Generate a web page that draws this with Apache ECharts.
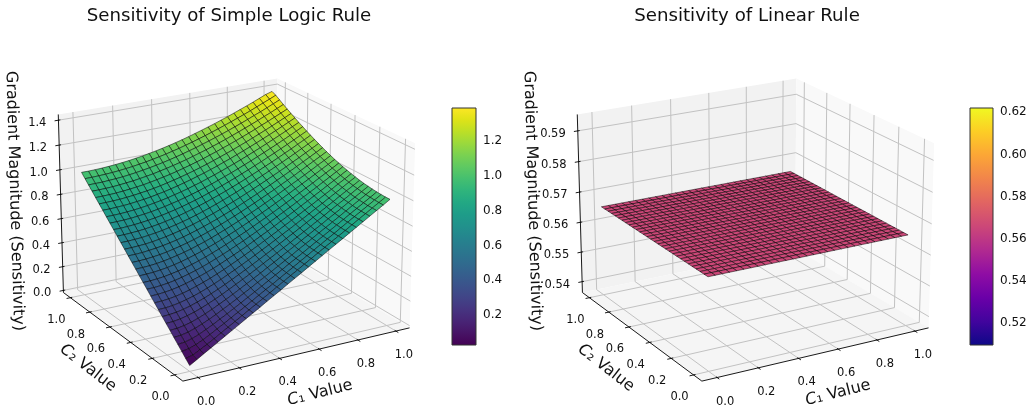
<!DOCTYPE html>
<html><head><meta charset="utf-8">
<style>html,body{margin:0;padding:0;background:#fff}#c{width:1032px;height:411px}</style>
<script src="https://cdn.jsdelivr.net/npm/echarts@6/dist/echarts.min.js"></script>
</head><body><div id="c"></div>
<script>
const FONT = '"DejaVu Sans"';
const c1Ticks = [0, 0.2, 0.4, 0.6, 0.8, 1.0];
const c2Ticks = [0, 0.2, 0.4, 0.6, 0.8, 1.0];
const simpleZTicks = [0, 0.2, 0.4, 0.6, 0.8, 1.0, 1.2, 1.4];
const linearZTicks = [0.54, 0.55, 0.56, 0.57, 0.58, 0.59];
const simpleBarTicks = [0.2, 0.4, 0.6, 0.8, 1.0, 1.2];
const linearBarTicks = [0.52, 0.54, 0.56, 0.58, 0.60, 0.62];
const viridis = ['#440154','#471365','#482475','#463480','#414487','#3b528b','#355f8d','#2f6c8e','#2a788e','#25848e','#21918c','#1e9c89','#22a884','#2fb47c','#44bf70','#5ec962','#7ad151','#9bd93c','#bddf26','#dfe318','#fde725'];
const plasma = ['#0d0887','#41049d','#6a00a8','#8f0da4','#b12a90','#cc4778','#e16462','#f1844b','#fca636','#fcce25','#f0f921'];
// Surface heights: rows are C2 = 0..1, columns are C1 = 0..1 (30 samples each)
const simpleRuleZ = [
[.028,.061,.095,.128,.161,.195,.228,.261,.295,.328,.361,.395,.428,.461,.495,.528,.561,.595,.628,.661,.695,.728,.761,.795,.828,.861,.895,.928,.961,.995],
[.061,.075,.103,.133,.165,.198,.231,.264,.297,.330,.363,.396,.429,.463,.496,.529,.562,.596,.629,.662,.695,.729,.762,.795,.829,.862,.895,.929,.962,.995],
[.095,.103,.122,.148,.177,.208,.239,.271,.303,.335,.368,.401,.434,.466,.499,.532,.565,.599,.632,.665,.698,.731,.764,.798,.831,.864,.897,.930,.964,.997],
[.128,.133,.148,.169,.195,.222,.252,.282,.313,.344,.376,.408,.440,.473,.505,.538,.571,.603,.636,.669,.702,.735,.768,.801,.834,.867,.900,.934,.967,1.000],
[.161,.165,.177,.195,.217,.241,.268,.297,.326,.356,.387,.418,.450,.481,.513,.545,.578,.610,.643,.675,.708,.741,.773,.806,.839,.872,.905,.938,.971,1.004],
[.195,.198,.208,.222,.241,.264,.288,.315,.342,.371,.401,.431,.461,.492,.524,.555,.587,.619,.651,.683,.715,.748,.780,.813,.845,.878,.911,.943,.976,1.009],
[.228,.231,.239,.252,.268,.288,.311,.335,.361,.389,.417,.446,.475,.505,.536,.567,.598,.629,.660,.692,.724,.756,.788,.820,.853,.885,.917,.950,.983,1.015],
[.261,.264,.271,.282,.297,.315,.335,.358,.382,.408,.435,.463,.491,.520,.550,.580,.610,.641,.672,.703,.734,.766,.798,.829,.861,.893,.926,.958,.990,1.022],
[.295,.297,.303,.313,.326,.342,.361,.382,.405,.429,.455,.481,.509,.537,.565,.595,.624,.654,.685,.715,.746,.777,.808,.840,.871,.903,.935,.967,.999,1.031],
[.328,.330,.335,.344,.356,.371,.389,.408,.429,.452,.476,.502,.528,.555,.583,.611,.640,.669,.699,.729,.759,.790,.820,.851,.882,.914,.945,.977,1.008,1.040],
[.361,.363,.368,.376,.387,.401,.417,.435,.455,.476,.499,.524,.549,.575,.601,.629,.657,.685,.714,.744,.773,.803,.834,.864,.895,.926,.957,.988,1.019,1.051],
[.395,.396,.401,.408,.418,.431,.446,.463,.481,.502,.524,.547,.571,.596,.621,.648,.675,.703,.731,.760,.789,.818,.848,.878,.908,.938,.969,1.000,1.031,1.062],
[.428,.429,.434,.440,.450,.461,.475,.491,.509,.528,.549,.571,.594,.618,.643,.668,.695,.722,.749,.777,.805,.834,.863,.893,.922,.952,.983,1.013,1.043,1.074],
[.461,.463,.466,.473,.481,.492,.505,.520,.537,.555,.575,.596,.618,.641,.665,.690,.715,.741,.768,.795,.823,.851,.880,.909,.938,.967,.997,1.027,1.057,1.087],
[.495,.496,.499,.505,.513,.524,.536,.550,.565,.583,.601,.621,.643,.665,.688,.712,.737,.762,.788,.815,.842,.869,.897,.926,.954,.983,1.012,1.042,1.071,1.101],
[.528,.529,.532,.538,.545,.555,.567,.580,.595,.611,.629,.648,.668,.690,.712,.735,.759,.784,.809,.835,.861,.888,.916,.943,.971,1.000,1.029,1.058,1.087,1.116],
[.561,.562,.565,.571,.578,.587,.598,.610,.624,.640,.657,.675,.695,.715,.737,.759,.782,.806,.831,.856,.882,.908,.935,.962,.989,1.017,1.046,1.074,1.103,1.132],
[.595,.596,.599,.603,.610,.619,.629,.641,.654,.669,.685,.703,.722,.741,.762,.784,.806,.829,.853,.878,.903,.929,.955,.981,1.008,1.036,1.063,1.092,1.120,1.149],
[.628,.629,.632,.636,.643,.651,.660,.672,.685,.699,.714,.731,.749,.768,.788,.809,.831,.853,.877,.900,.925,.950,.976,1.002,1.028,1.055,1.082,1.110,1.138,1.166],
[.661,.662,.665,.669,.675,.683,.692,.703,.715,.729,.744,.760,.777,.795,.815,.835,.856,.878,.900,.924,.948,.972,.997,1.022,1.048,1.075,1.101,1.129,1.156,1.184],
[.695,.695,.698,.702,.708,.715,.724,.734,.746,.759,.773,.789,.805,.823,.842,.861,.882,.903,.925,.948,.971,.995,1.019,1.044,1.069,1.095,1.121,1.148,1.175,1.202],
[.728,.729,.731,.735,.741,.748,.756,.766,.777,.790,.803,.818,.834,.851,.869,.888,.908,.929,.950,.972,.995,1.018,1.042,1.066,1.091,1.116,1.142,1.168,1.195,1.222],
[.761,.762,.764,.768,.773,.780,.788,.798,.808,.820,.834,.848,.863,.880,.897,.916,.935,.955,.976,.997,1.019,1.042,1.065,1.089,1.113,1.138,1.163,1.189,1.215,1.241],
[.795,.795,.798,.801,.806,.813,.820,.829,.840,.851,.864,.878,.893,.909,.926,.943,.962,.981,1.002,1.022,1.044,1.066,1.089,1.112,1.136,1.160,1.185,1.210,1.236,1.262],
[.828,.829,.831,.834,.839,.845,.853,.861,.871,.882,.895,.908,.922,.938,.954,.971,.989,1.008,1.028,1.048,1.069,1.091,1.113,1.136,1.159,1.183,1.207,1.232,1.257,1.283],
[.861,.862,.864,.867,.872,.878,.885,.893,.903,.914,.926,.938,.952,.967,.983,1.000,1.017,1.036,1.055,1.075,1.095,1.116,1.138,1.160,1.183,1.207,1.230,1.255,1.279,1.304],
[.895,.895,.897,.900,.905,.911,.917,.926,.935,.945,.957,.969,.983,.997,1.012,1.029,1.046,1.063,1.082,1.101,1.121,1.142,1.163,1.185,1.207,1.230,1.254,1.277,1.302,1.326],
[.928,.929,.930,.934,.938,.943,.950,.958,.967,.977,.988,1.000,1.013,1.027,1.042,1.058,1.074,1.092,1.110,1.129,1.148,1.168,1.189,1.210,1.232,1.255,1.277,1.301,1.325,1.349],
[.961,.962,.964,.967,.971,.976,.983,.990,.999,1.008,1.019,1.031,1.043,1.057,1.071,1.087,1.103,1.120,1.138,1.156,1.175,1.195,1.215,1.236,1.257,1.279,1.302,1.325,1.348,1.372],
[.995,.995,.997,1.000,1.004,1.009,1.015,1.022,1.031,1.040,1.051,1.062,1.074,1.087,1.101,1.116,1.132,1.149,1.166,1.184,1.202,1.222,1.241,1.262,1.283,1.304,1.326,1.349,1.372,1.389]
];
// The linear rule's surface reads as one flat height everywhere
const linearRuleRow = [.5658,.5658,.5658,.5658,.5658,.5658,.5658,.5658,.5658,.5658,.5658,.5658,.5658,.5658,.5658,.5658,.5658,.5658,.5658,.5658,.5658,.5658,.5658,.5658,.5658,.5658,.5658,.5658,.5658,.5658];
const linearRuleZ = simpleRuleZ.map(() => linearRuleRow);

const ELEV = 20 * Math.PI / 180, AZIM = -120 * Math.PI / 180, DIST = 10, SCALE = 2160, CY = 220.6;
const BOX = [1.1905, 1.1905, 0.8929];
const W = [Math.cos(ELEV)*Math.cos(AZIM), Math.cos(ELEV)*Math.sin(AZIM), Math.sin(ELEV)];
const U = [-Math.sin(AZIM), Math.cos(AZIM), 0];
const V = [W[1]*U[2]-W[2]*U[1], W[2]*U[0]-W[0]*U[2], W[0]*U[1]-W[1]*U[0]];
const dot = (a,b)=>a[0]*b[0]+a[1]*b[1]+a[2]*b[2];
function hexRgb(h){return [1,3,5].map(k=>parseInt(h.substr(k,2),16));}
function cmap(stops,t){
  t=Math.max(0,Math.min(1,t));const f=t*(stops.length-1),i=Math.min(stops.length-2,Math.floor(f)),a=hexRgb(stops[i]),b=hexRgb(stops[i+1]),k=f-i;
  return 'rgb('+[0,1,2].map(n=>Math.round(a[n]+(b[n]-a[n])*k)).join(',')+')';
}

function buildPanel(idx, cfg){
  const XL=[-0.0729,1.0729], YL=[-0.0729,1.0729], ZL=cfg.zlim;
  const proj=(x,y,z)=>{
    const P=[((x-XL[0])/(XL[1]-XL[0])-.5)*BOX[0],((y-YL[0])/(YL[1]-YL[0])-.5)*BOX[1],((z-ZL[0])/(ZL[1]-ZL[0])-.5)*BOX[2]];
    const d=DIST-dot(P,W);
    return [dot(P,U)/d,dot(P,V)/d];
  };
  const x0=XL[0],x1=XL[1],y0=YL[0],y1=YL[1],z0=ZL[0],z1=ZL[1];
  const back=[];
  back.push({k:'poly',pts:[[x0,y1,z0],[x1,y1,z0],[x1,y1,z1],[x0,y1,z1]],fill:'#f2f2f2'});
  back.push({k:'poly',pts:[[x1,y0,z0],[x1,y1,z0],[x1,y1,z1],[x1,y0,z1]],fill:'#f9f9f9'});
  back.push({k:'poly',pts:[[x0,y0,z0],[x1,y0,z0],[x1,y1,z0],[x0,y1,z0]],fill:'#f5f5f5'});
  const gridCol='#c2c2c2';
  c1Ticks.forEach(t=>back.push({k:'line',pts:[[t,y0,z0],[t,y1,z0],[t,y1,z1]],col:gridCol,w:1}));
  c2Ticks.forEach(t=>back.push({k:'line',pts:[[x0,t,z0],[x1,t,z0],[x1,t,z1]],col:gridCol,w:1}));
  cfg.zTicks.forEach(t=>back.push({k:'line',pts:[[x0,y1,t],[x1,y1,t],[x1,y0,t]],col:gridCol,w:1}));
  const ax='#000';
  back.push({k:'line',pts:[[x0,y0,z0],[x1,y0,z0]],col:ax,w:.9});
  back.push({k:'line',pts:[[x0,y0,z0],[x0,y1,z0]],col:ax,w:.9});
  back.push({k:'line',pts:[[x0,y1,z0],[x0,y1,z1]],col:ax,w:.9});
  const rx=x1-x0, out=.0167*rx, inn=.0083*rx;
  const font='11.5px '+FONT, tc='#111';
  const lab=(t,d)=>t.toFixed(d);
  c1Ticks.forEach(t=>{back.push({k:'line',pts:[[t,y0-out,z0],[t,y0+inn,z0]],col:ax,w:.9});
    back.push({k:'text',at:[t,y0,z0],dx:8,dy:24,text:lab(t,1),font,fill:tc,align:'center'});});
  c2Ticks.forEach(t=>{back.push({k:'line',pts:[[x0-out,t,z0],[x0+inn,t,z0]],col:ax,w:.9});
    back.push({k:'text',at:[x0,t,z0],dx:-14,dy:22.5,text:lab(t,1),font,fill:tc,align:'center'});});
  cfg.zTicks.forEach(t=>{back.push({k:'line',pts:[[x0-out,y1,t],[x0+inn,y1,t]],col:ax,w:.9});
    back.push({k:'text',at:[x0,y1,t],dx:-12,dy:3,text:lab(t,cfg.zDec),font,fill:tc,align:'right'});});
  const off=cfg.offset;
  const rich={i:{fontStyle:'italic',fontFamily:FONT,fontSize:16,fill:tc},n:{fontFamily:FONT,fontSize:16,fill:tc}};
  back.push({k:'label',x:320+off,y:393,rot:14,text:'{i|C}{n|\u2081 Value}',rich});
  back.push({k:'label',x:88+off,y:368,rot:-38,text:'{i|C}{n|\u2082 Value}',rich});
  back.push({k:'label',x:14.5+off,y:201,rot:-88.3,text:'Gradient Magnitude (Sensitivity)',font:'16px '+FONT});

  const renderBack=(params,api)=>{
    const s=back[params.dataIndex];
    const pt=p=>api.coord(proj(p[0],p[1],p[2]));
    if(s.k==='poly') return {type:'polygon',shape:{points:s.pts.map(pt)},style:{fill:s.fill}};
    if(s.k==='line') return {type:'polyline',shape:{points:s.pts.map(pt)},style:{stroke:s.col,lineWidth:s.w,fill:null}};
    if(s.k==='text'){const c=pt(s.at);return {type:'text',x:c[0]+s.dx,y:c[1]+s.dy,style:{text:s.text,font:s.font,fill:s.fill,align:s.align,verticalAlign:'middle'}};}
    const st={text:s.text,fill:tc,align:'center',verticalAlign:'middle'};
    if(s.rich) st.rich=s.rich; else st.font=s.font;
    return {type:'text',x:s.x,y:s.y,rotation:s.rot*Math.PI/180,style:st};
  };
  const cells=[];
  const Z=cfg.z, n=Z.length;
  for(let j=n-2;j>=0;j--)for(let i=n-2;i>=0;i--)cells.push([i,j,(Z[j][i]+Z[j][i+1]+Z[j+1][i]+Z[j+1][i+1])/4]);
  const renderCell=(params,api)=>{
    const i=api.value(0),j=api.value(1),a=api.value(2);
    const c=(n2,m)=>api.coord(proj(m/(n-1),n2/(n-1),Z[n2][m]));
    return {type:'polygon',shape:{points:[c(j,i),c(j,i+1),c(j+1,i+1),c(j+1,i)]},
      style:{fill:cmap(cfg.cmap,(a-cfg.vmin)/(cfg.vmax-cfg.vmin)),stroke:'rgba(0,0,0,.85)',lineWidth:.6}};
  };
  const barRender=(params,api)=>{
    const a=api.coord([0,cfg.vmax]),b=api.coord([1,cfg.vmin]);
    const stops=cfg.cmap.map((c,k)=>({offset:k/(cfg.cmap.length-1),color:c}));
    return {type:'rect',shape:{x:a[0],y:a[1],width:b[0]-a[0],height:b[1]-a[1]},
      style:{fill:new echarts.graphic.LinearGradient(0,1,0,0,stops),stroke:'#333',lineWidth:1}};
  };
  const series=[
    {type:'custom',xAxisIndex:idx*2,yAxisIndex:idx*2,data:back.map((_,k)=>[k]),renderItem:renderBack,silent:true,animation:false,z:2,progressive:0},
    {type:'custom',xAxisIndex:idx*2,yAxisIndex:idx*2,data:cells,renderItem:renderCell,silent:true,animation:false,z:3,progressive:0},
    {type:'custom',xAxisIndex:idx*2+1,yAxisIndex:idx*2+1,data:[[0,cfg.vmin]],renderItem:barRender,silent:true,animation:false,z:3}
  ];
  const cx=cfg.cx;
  const grids=[{left:0,top:0,width:1032,height:411},{left:cfg.barX,top:108,width:cfg.barW,height:237}];
  const xAxes=[
    {gridIndex:idx*2,type:'value',show:false,min:(0-cx)/SCALE,max:(1032-cx)/SCALE},
    {gridIndex:idx*2+1,type:'value',show:false,min:0,max:1}
  ];
  const yAxes=[
    {gridIndex:idx*2,type:'value',show:false,min:(CY-411)/SCALE,max:CY/SCALE},
    {gridIndex:idx*2+1,type:'value',position:'right',min:cfg.vmin,max:cfg.vmax,splitLine:{show:false},
      axisLine:{show:false},
      axisTick:{show:true,length:3.5,lineStyle:{color:'#000',width:.9},customValues:cfg.barTicks},
      axisLabel:{show:true,margin:7,padding:[2,0,0,0],fontFamily:FONT,fontSize:12,color:'#111',customValues:cfg.barTicks,formatter:v=>v.toFixed(cfg.barDec)}}
  ];
  return {series,grids,xAxes,yAxes};
}

const L=buildPanel(0,{z:simpleRuleZ,zlim:[-0.018,1.446],zTicks:simpleZTicks,zDec:1,cmap:viridis,vmin:.028,vmax:1.389,cx:233,offset:0,barX:452,barW:24,barTicks:simpleBarTicks,barDec:1});
const R=buildPanel(1,{z:linearRuleZ,zlim:[.5363,.5953],zTicks:linearZTicks,zDec:2,cmap:plasma,vmin:.5096,vmax:.622,cx:752,offset:518,barX:970,barW:23,barTicks:linearBarTicks,barDec:2});

const chart=echarts.init(document.getElementById('c'),null,{renderer:'canvas'});
chart.setOption({
  animation:false,backgroundColor:'#fff',
  title:[
    {text:'Sensitivity of Simple Logic Rule',left:224,top:2,textAlign:'center',textStyle:{fontFamily:FONT,fontWeight:'normal',fontSize:18.2,color:'#111'}},
    {text:'Sensitivity of Linear Rule',left:742,top:2,textAlign:'center',textStyle:{fontFamily:FONT,fontWeight:'normal',fontSize:18.2,color:'#111'}}
  ],
  grid:[...L.grids,...R.grids],xAxis:[...L.xAxes,...R.xAxes],yAxis:[...L.yAxes,...R.yAxes],
  series:[...L.series,...R.series]
});
</script></body></html>
